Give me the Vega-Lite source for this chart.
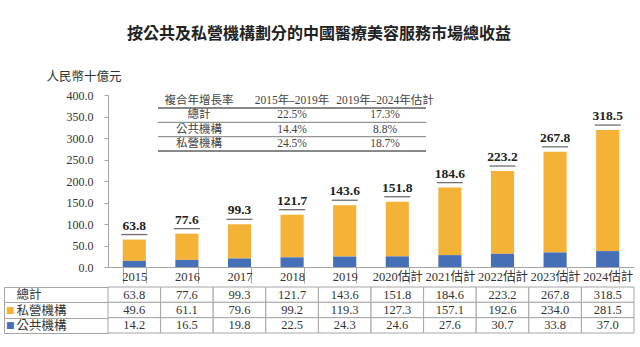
{
  "$schema": "https://vega.github.io/schema/vega-lite/v6.json",
  "padding": {"left": 3, "top": 26, "right": 7, "bottom": 5},
  "background": "white",
  "title": {
    "text": "按公共及私營機構劃分的中國醫療美容服務市場總收益",
    "fontSize": 16,
    "fontWeight": "bold",
    "font": "Noto Sans CJK TC",
    "color": "#222",
    "anchor": "middle",
    "offset": 28
  },
  "config": {
    "view": {"stroke": null},
    "font": "Liberation Serif, Noto Sans CJK TC",
    "axis": {
      "labelFont": "Liberation Serif, Noto Sans CJK TC",
      "titleFont": "Liberation Serif, Noto Sans CJK TC",
      "labelColor": "#333",
      "titleColor": "#333",
      "labelFontSize": 12.5
    },
    "text": {"font": "Liberation Serif, Noto Sans CJK TC", "color": "#333"}
  },
  "datasets": {
    "main": [
      {"year": "2015", "series": "總計", "value": 63.8},
      {"year": "2015", "series": "私營機構", "value": 49.6},
      {"year": "2015", "series": "公共機構", "value": 14.2},
      {"year": "2016", "series": "總計", "value": 77.6},
      {"year": "2016", "series": "私營機構", "value": 61.1},
      {"year": "2016", "series": "公共機構", "value": 16.5},
      {"year": "2017", "series": "總計", "value": 99.3},
      {"year": "2017", "series": "私營機構", "value": 79.6},
      {"year": "2017", "series": "公共機構", "value": 19.8},
      {"year": "2018", "series": "總計", "value": 121.7},
      {"year": "2018", "series": "私營機構", "value": 99.2},
      {"year": "2018", "series": "公共機構", "value": 22.5},
      {"year": "2019", "series": "總計", "value": 143.6},
      {"year": "2019", "series": "私營機構", "value": 119.3},
      {"year": "2019", "series": "公共機構", "value": 24.3},
      {"year": "2020估計", "series": "總計", "value": 151.8},
      {"year": "2020估計", "series": "私營機構", "value": 127.3},
      {"year": "2020估計", "series": "公共機構", "value": 24.6},
      {"year": "2021估計", "series": "總計", "value": 184.6},
      {"year": "2021估計", "series": "私營機構", "value": 157.1},
      {"year": "2021估計", "series": "公共機構", "value": 27.6},
      {"year": "2022估計", "series": "總計", "value": 223.2},
      {"year": "2022估計", "series": "私營機構", "value": 192.6},
      {"year": "2022估計", "series": "公共機構", "value": 30.7},
      {"year": "2023估計", "series": "總計", "value": 267.8},
      {"year": "2023估計", "series": "私營機構", "value": 234.0},
      {"year": "2023估計", "series": "公共機構", "value": 33.8},
      {"year": "2024估計", "series": "總計", "value": 318.5},
      {"year": "2024估計", "series": "私營機構", "value": 281.5},
      {"year": "2024估計", "series": "公共機構", "value": 37.0}
    ],
    "cagr": [
      {"row": "h", "col": "k", "text": "複合年增長率"},
      {"row": "h", "col": "p1", "text": "2015年–2019年"},
      {"row": "h", "col": "p2", "text": "2019年–2024年估計"},
      {"row": "總計", "col": "k", "text": "總計"},
      {"row": "總計", "col": "p1", "text": "22.5%"},
      {"row": "總計", "col": "p2", "text": "17.3%"},
      {"row": "公共機構", "col": "k", "text": "公共機構"},
      {"row": "公共機構", "col": "p1", "text": "14.4%"},
      {"row": "公共機構", "col": "p2", "text": "8.8%"},
      {"row": "私營機構", "col": "k", "text": "私營機構"},
      {"row": "私營機構", "col": "p1", "text": "24.5%"},
      {"row": "私營機構", "col": "p2", "text": "18.7%"}
    ]
  },
  "spacing": -3,
  "resolve": {"scale": {"x": "independent", "y": "independent", "color": "independent"}},
  "vconcat": [
    {
      "width": 526,
      "height": 172,
      "resolve": {"scale": {"x": "independent", "y": "independent"}},
      "layer": [
        {
          "data": {"name": "main"},
          "encoding": {
            "x": {
              "field": "year", "type": "nominal", "sort": null,
              "scale": {"paddingInner": 0.56, "paddingOuter": 0.28},
              "axis": {
                "title": null, "labelAngle": 0, "tickBand": "extent", "tickSize": 16,
                "tickColor": "#a6a6a6", "domainColor": "#a6a6a6",
                "labelPadding": -7, "labelBaseline": "middle"
              }
            },
            "y": {
              "field": "value", "type": "quantitative",
              "scale": {"domain": [0, 400], "nice": false},
              "axis": {
                "values": [0, 50, 100, 150, 200, 250, 300, 350, 400],
                "format": ".1f", "grid": false, "labelOverlap": false, "labelSeparation": 0,
                "labelFontSize": 12, "labelBound": false, "labelFlush": false,
                "domainColor": "#a6a6a6", "tickColor": "#a6a6a6", "tickSize": 4,
                "labelPadding": 11,
                "title": "人民幣十億元", "titleAngle": 0, "titleX": -62, "titleY": -19,
                "titleAlign": "left", "titleBaseline": "middle",
                "titleFontWeight": "normal", "titleFontSize": 12.5
              }
            }
          },
          "layer": [
            {
              "transform": [{"filter": "datum.series !== '總計'"}],
              "mark": {"type": "bar"},
              "encoding": {
                "color": {
                  "field": "series", "type": "nominal",
                  "scale": {"domain": ["私營機構", "公共機構"], "range": ["#F4B236", "#4570B8"]},
                  "legend": null
                },
                "order": {"field": "series", "sort": "ascending"}
              }
            },
            {
              "transform": [{"filter": "datum.series === '總計'"}],
              "mark": {"type": "text", "fontWeight": "bold", "fontSize": 13.5, "baseline": "bottom", "dy": -7, "color": "#222"},
              "encoding": {
                "text": {"field": "value", "type": "quantitative", "format": ".1f"}
              }
            },
            {
              "transform": [{"filter": "datum.series === '總計'"}],
              "mark": {"type": "tick", "orient": "horizontal", "size": 26, "thickness": 1.3, "yOffset": -5, "color": "#333"}
            }
          ]
        },
        {
          "data": {"name": "cagr"},
          "encoding": {
            "x": {"field": "col", "type": "nominal", "scale": {"type": "point", "domain": ["k", "p1", "p2"], "range": [91, 277], "padding": 0}, "axis": null},
            "y": {"field": "row", "type": "nominal", "scale": {"type": "point", "domain": ["h", "總計", "公共機構", "私營機構"], "range": [6, 49], "padding": 0}, "axis": null}
          },
          "layer": [
            {
              "mark": {"type": "text", "fontSize": 11.5, "color": "#444"},
              "encoding": {"text": {"field": "text"}}
            },
            {
              "transform": [{"filter": "datum.col === 'p1' && (datum.row === 'h' || datum.row === '私營機構')"}],
              "mark": {"type": "tick", "orient": "horizontal", "size": 268, "thickness": 2, "yOffset": 7, "color": "#555"}
            },
            {
              "transform": [{"filter": "datum.col === 'p1' && (datum.row === '總計' || datum.row === '公共機構')"}],
              "mark": {"type": "tick", "orient": "horizontal", "size": 268, "thickness": 1.3, "yOffset": 7, "color": "#666"}
            }
          ]
        }
      ]
    },
    {
      "width": 526,
      "height": 46,
      "data": {"name": "main"},
      "encoding": {
        "x": {"field": "year", "type": "nominal", "sort": null, "scale": {"paddingInner": 0, "paddingOuter": 0}, "axis": null},
        "y": {
          "field": "series", "type": "nominal", "sort": ["總計", "私營機構", "公共機構"],
          "scale": {"paddingInner": 0, "paddingOuter": 0},
          "axis": {
            "title": null, "tickBand": "extent", "tickSize": -104, "tickColor": "#a6a6a6",
            "offset": 104, "domain": true, "domainColor": "#a6a6a6",
            "labelAlign": "left", "labelPadding": 92, "labelBaseline": "middle"
          }
        }
      },
      "layer": [
        {"mark": {"type": "rect", "fill": "white", "stroke": "#a6a6a6", "strokeWidth": 1}},
        {
          "mark": {"type": "text", "fontSize": 12.5, "color": "#333"},
          "encoding": {"text": {"field": "value", "type": "quantitative", "format": ".1f"}}
        },
        {
          "transform": [{"filter": "datum.series !== '總計' && datum.year === '2015'"}],
          "mark": {"type": "text", "text": "■", "font": "DejaVu Sans", "fontSize": 9, "dx": -124},
          "encoding": {
            "color": {
              "field": "series", "type": "nominal",
              "scale": {"domain": ["私營機構", "公共機構"], "range": ["#F4B236", "#4570B8"]},
              "legend": null
            }
          }
        }
      ]
    }
  ]
}
